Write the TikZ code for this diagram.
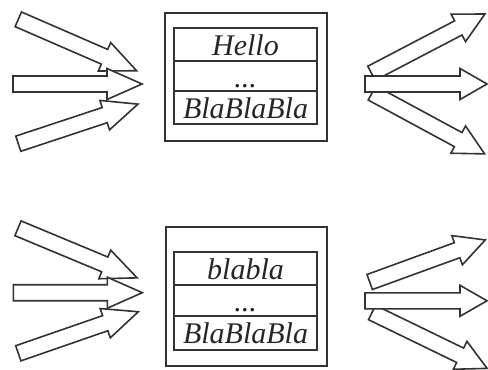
\documentclass[tikz,border=0pt]{standalone}
\usepackage{fontspec}
\setmainfont{Liberation Serif}

\tikzset{
	fat/.style={draw=black!80, line width=0.8pt, fill=white, line join=miter},
	frame/.style={draw=black!80, line width=0.75pt},
	cell/.style={font=\fontsize{15}{18}\selectfont\itshape, text=black!85, anchor=base, inner sep=0pt},
	pics/fatarrow/.style args={#1/#2}{code={
		\draw[fat] (0,-8) -- (#1-#2,-8) -- (#1-#2,-15.5) -- (#1,0) -- (#1-#2,15.5) -- (#1-#2,8) -- (0,8) -- cycle;
	}}
}

\begin{document}
\begin{tikzpicture}[x=0.5pt, y=-0.5pt]
	\clip (0,0) rectangle (488,370);
	
	% Incoming arrows, top
	\foreach \x/\y/\a/\l/\h in {18.3/19.3/-23.5/129/35, 18.3/143.7/18.3/126/35, 13/84/0/129/35}
		\pic[rotate=\a] at (\x,\y) {fatarrow=\l/\h};
	
	% Outgoing arrows, top
	\foreach \x/\y/\a/\l/\h in {371.5/73.3/27.6/128/30, 372/93/-28.4/128/30, 365/84/0/122/27}
		\pic[rotate=\a] at (\x,\y) {fatarrow=\l/\h};
	
	% Record, top
	\draw[frame] (165,13) rectangle (327,141);
	\draw[frame] (174,28) rectangle (317,124);
	\draw[frame] (174,61) -- (317,61) (174,91) -- (317,91);
	\node[cell] (hello) at (245.5,55) {Hello};
	\node[cell] (dotsA) at (245.5,87) {...};
	\node[cell] (blaA) at (245.5,118) {BlaBlaBla};
	
	% Incoming arrows, bottom
	\foreach \x/\y/\a/\l/\h in {18/228.3/-22.6/129/35, 18.3/353.3/19.1/127/35, 13.3/292.7/0/129/35}
		\pic[rotate=\a] at (\x,\y) {fatarrow=\l/\h};
	
	% Outgoing arrows, bottom
	\foreach \x/\y/\a/\l/\h in {369.7/282/20/123/30, 372/312.5/-25.9/128/30, 365/300.8/0/122/27}
		\pic[rotate=\a] at (\x,\y) {fatarrow=\l/\h};
	
	% Record, bottom
	\draw[frame] (166,227) rectangle (327,366);
	\draw[frame] (174,252) rectangle (317,350);
	\draw[frame] (174,285) -- (317,285) (174,316) -- (317,316);
	\node[cell] (blabla) at (245.5,279) {blabla};
	\node[cell] (dotsB) at (245.5,311) {...};
	\node[cell] (blaB) at (245.5,343) {BlaBlaBla};
\end{tikzpicture}
\end{document}
